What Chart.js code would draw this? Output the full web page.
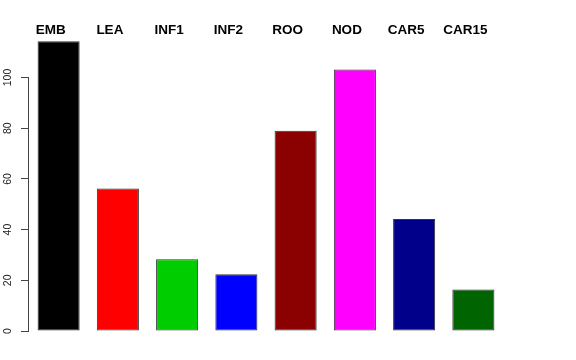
<!DOCTYPE html>
<html>
<head>
<meta charset="utf-8">
<script src="https://cdn.jsdelivr.net/npm/chart.js@4"></script>
<style>
    html, body { margin: 0; padding: 0; background: #fff; }
    #wrap { width: 576px; height: 360px; }
</style>
</head>
<body>
<div id="wrap"><canvas id="barChart" width="576" height="360"></canvas></div>
<script>
// data
const categories = ["EMB", "LEA", "INF1", "INF2", "ROO", "NOD", "CAR5", "CAR15"];
const values = [114.3, 56.2, 28.3, 22.4, 79.0, 103.2, 44.2, 16.4];
const barColors = ["#000000", "#FF0000", "#00CD00", "#0000FF", "#8B0000", "#FF00FF", "#00008B", "#006400"];
const yTicks = [0, 20, 40, 60, 80, 100];

// axis line only spans the ticks, like R does
const axisLine = {
    id: "axisLine",
    afterDraw(chart) {
        const y = chart.scales.y;
        const ctx = chart.ctx;
        const x = Math.round(chart.chartArea.left) - 0.5;
        ctx.save();
        ctx.strokeStyle = "#444";
        ctx.lineWidth = 1;
        ctx.beginPath();
        ctx.moveTo(x, Math.round(y.getPixelForValue(yTicks[0])) + 0.5);
        ctx.lineTo(x, Math.round(y.getPixelForValue(yTicks[yTicks.length - 1])) + 0.5);
        ctx.stroke();
        ctx.restore();
    }
};

const ctx = document.getElementById("barChart").getContext("2d");
new Chart(ctx, {
    type: "bar",
    data: {
        labels: categories,
        datasets: [{
            data: values,
            backgroundColor: barColors,
            borderColor: "#333",
            borderWidth: 1,
            borderSkipped: false,
            categoryPercentage: 1,
            barPercentage: 0.71
        }]
    },
    options: {
        responsive: false,
        animation: false,
        layout: { padding: { left: 0, right: 73, top: 22, bottom: 29 } },
        plugins: {
            legend: { display: false },
            tooltip: { enabled: false }
        },
        scales: {
            x: {
                position: "top",
                grid: { display: false, drawTicks: false },
                border: { display: false },
                ticks: {
                    color: "#000",
                    font: { family: "Liberation Sans", size: 13.5, weight: "bold" },
                    padding: 0,
                    labelOffset: -8,
                    maxRotation: 0,
                    autoSkip: false
                }
            },
            y: {
                min: 0,
                max: 115.5,
                afterBuildTicks: (scale) => {
                    scale.ticks = yTicks.map(v => ({ value: v }));
                },
                afterFit: (scale) => { scale.width = 29; },
                grid: {
                    drawOnChartArea: false,
                    drawTicks: true,
                    tickLength: 8,
                    color: "#444"
                },
                border: { display: false },
                ticks: {
                    color: "#222",
                    font: { family: "Liberation Sans", size: 10.5 },
                    minRotation: 90,
                    maxRotation: 90,
                    crossAlign: "center",
                    padding: 4.5
                }
            }
        }
    },
    plugins: [axisLine]
});
</script>
</body>
</html>
